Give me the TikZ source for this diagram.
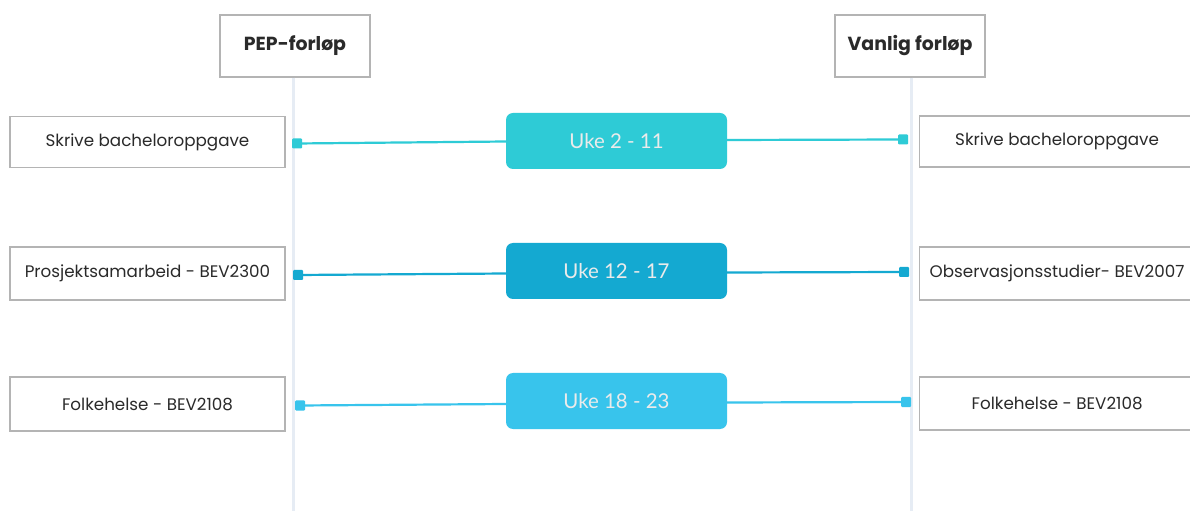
\documentclass[tikz,border=0pt]{standalone}
\usepackage{fontspec}
\setmainfont{Poppins}
\newfontfamily\ukefont{Lato}
\definecolor{rowA}{HTML}{2ECBD6}
\definecolor{rowB}{HTML}{14A9D1}
\definecolor{rowC}{HTML}{38C4EC}
\definecolor{vline}{HTML}{E6ECF4}
\definecolor{boxline}{HTML}{B4B4B4}
\definecolor{txt}{HTML}{2A2A2A}
\tikzset{
  header/.style={draw=boxline, line width=1.5bp, fill=white, minimum width=150bp, minimum height=62bp, font=\fontsize{19}{22}\selectfont\bfseries, text=txt},
  course/.style={draw=boxline, line width=1.2bp, fill=white, minimum height=51bp, font=\fontsize{16.8}{20}\selectfont, text=txt},
  uke/.style={rounded corners=7bp, minimum width=221bp, minimum height=56bp, font=\ukefont\fontsize{20.5}{24}\selectfont, text=white!92!black},
  marker/.style={minimum size=10bp, inner sep=0pt, rounded corners=1bp},
  conn/.style={line width=2.2bp},
}
\begin{document}
\begin{tikzpicture}[x=1bp,y=-1bp]
\useasboundingbox (0,0) rectangle (1190,511);
\fill[white] (0,0) rectangle (1190,511);
% vertical lines
\coordinate (lb) at (293,511);
\coordinate (rb) at (911,511);
\node[header] (pep) at (295,46) {PEP-forløp};
\node[header] (van) at (910,46) {Vanlig forløp};
\draw[vline, line width=3bp] (pep.south -| lb) -- (lb);
\draw[vline, line width=3bp] (van.south -| rb) -- (rb);
% left boxes
\node[course, minimum width=275bp] (l1) at (147.5,142) {Skrive bacheloroppgave};
\node[course, minimum width=275bp, minimum height=53bp] (l2) at (147.5,273.5) {Prosjektsamarbeid - BEV2300};
\node[course, minimum width=275bp, minimum height=54bp] (l3) at (147.5,404) {Folkehelse - BEV2108};
% right boxes
\node[course, minimum width=275bp, anchor=west] (r1) at (919,141.5) {Skrive bacheloroppgave};
\node[course, minimum width=275bp, minimum height=53bp, anchor=west] (r2) at (919,273.5) {Observasjonsstudier- BEV2007};
\node[course, minimum width=275bp, minimum height=53bp, anchor=west] (r3) at (919,403.5) {Folkehelse - BEV2108};
% center boxes
\node[uke, fill=rowA] (u1) at (616.5,141) {Uke 2 - 11};
\node[uke, fill=rowB] (u2) at (616.5,271) {Uke 12 - 17};
\node[uke, fill=rowC] (u3) at (616.5,401) {Uke 18 - 23};
% markers
\node[marker, fill=rowA] (ml1) at (297,143.5) {};
\node[marker, fill=rowA] (mr1) at (903,139.5) {};
\node[marker, fill=rowB] (ml2) at (298,275) {};
\node[marker, fill=rowB] (mr2) at (904,272) {};
\node[marker, fill=rowC] (ml3) at (300,405.5) {};
\node[marker, fill=rowC] (mr3) at (906,402) {};
% connectors
\draw[conn, rowA] (ml1.center) -- (u1.west |- 0,141.5);
\draw[conn, rowA] (u1.east |- 0,140) -- (mr1.center);
\draw[conn, rowB] (ml2.center) -- (u2.west |- 0,273.5);
\draw[conn, rowB] (u2.east |- 0,272.5) -- (mr2.center);
\draw[conn, rowC] (ml3.center) -- (u3.west |- 0,404);
\draw[conn, rowC] (u3.east |- 0,402.5) -- (mr3.center);
\end{tikzpicture}
\end{document}
